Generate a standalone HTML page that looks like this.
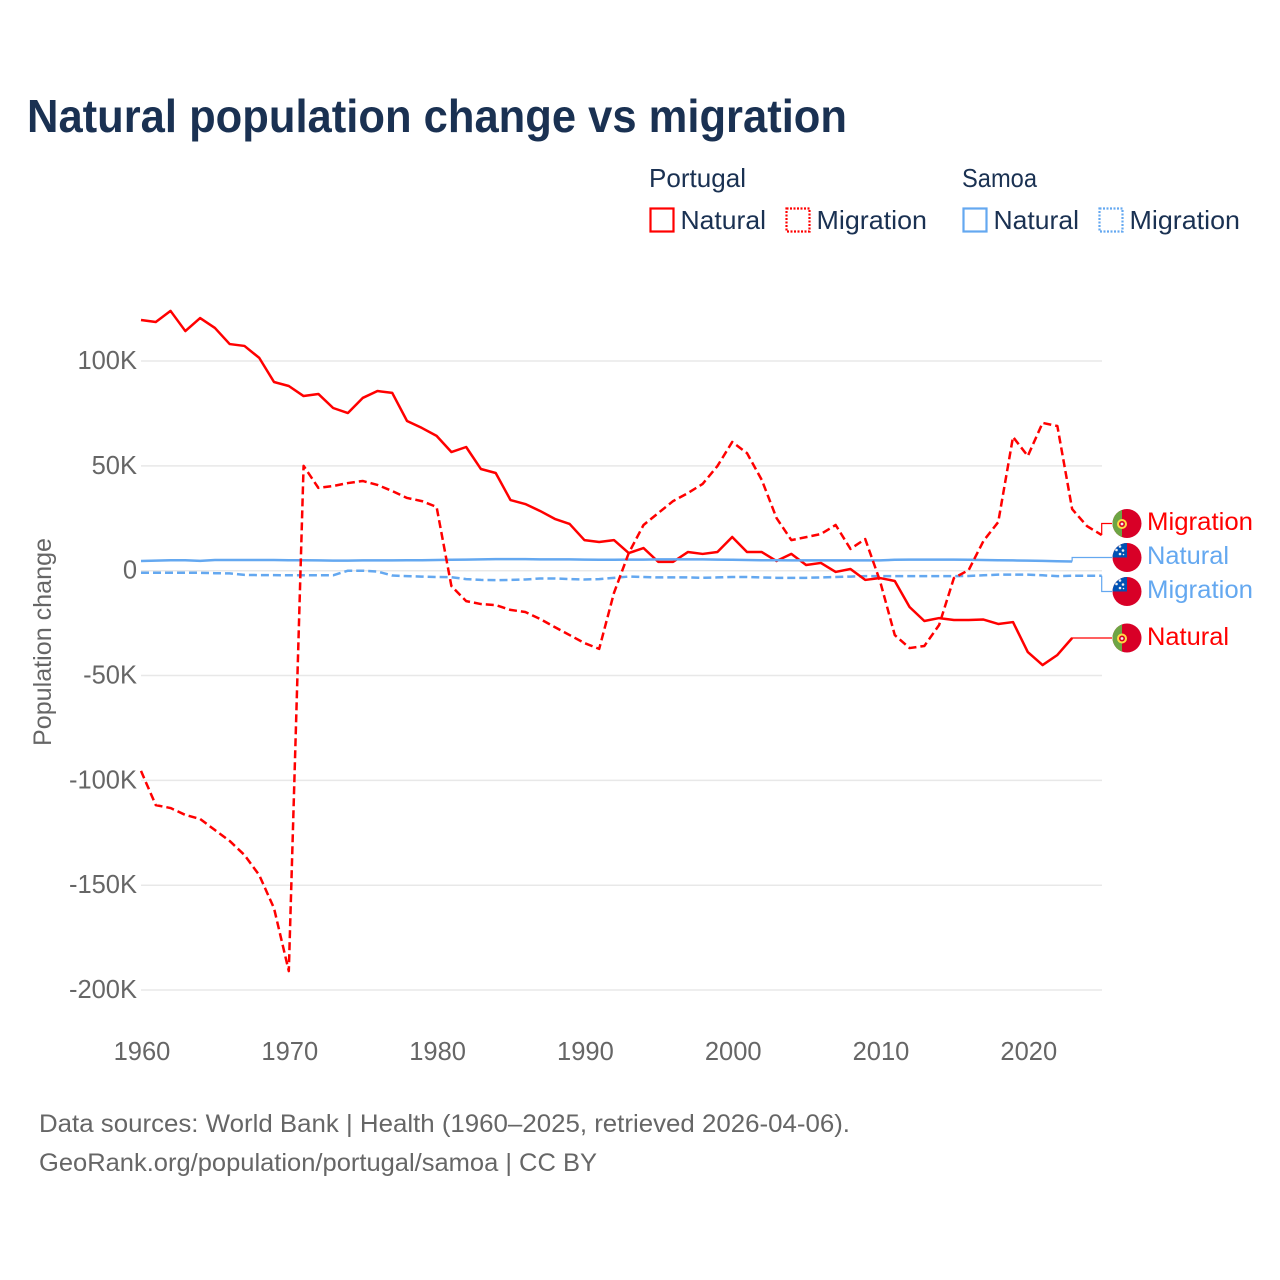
<!DOCTYPE html>
<html lang="en">
<head>
<meta charset="utf-8">
<title>Natural population change vs migration</title>
<style>
html,body{margin:0;padding:0;background:#fff;width:1280px;height:1280px;overflow:hidden}
svg{display:block;font-family:"Liberation Sans",sans-serif}
</style>
</head>
<body>
<svg id="chart" xmlns="http://www.w3.org/2000/svg" width="1280" height="1280" viewBox="0 0 1280 1280">
  <rect width="1280" height="1280" fill="#fff"/>
  <text x="27" y="132" font-size="46" font-weight="700" fill="#1a3152" textLength="820" lengthAdjust="spacingAndGlyphs">Natural population change vs migration</text>

  <g font-size="26" fill="#1a3152">
    <text x="649" y="187" textLength="97" lengthAdjust="spacingAndGlyphs">Portugal</text>
    <text x="962" y="187" textLength="75" lengthAdjust="spacingAndGlyphs">Samoa</text>
    <g>
      <rect x="650.5" y="208.5" width="23" height="23" fill="none" stroke="#ff0000" stroke-width="2.2"/>
      <text x="680.5" y="229" textLength="85.5" lengthAdjust="spacingAndGlyphs">Natural</text>
    </g>
    <g>
      <rect x="786.5" y="208.5" width="23" height="23" fill="none" stroke="#ff0000" stroke-width="2.2" stroke-dasharray="2 1.5"/>
      <text x="816.5" y="229" textLength="110.5" lengthAdjust="spacingAndGlyphs">Migration</text>
    </g>
    <g>
      <rect x="963.5" y="208.5" width="23" height="23" fill="none" stroke="#64a8f0" stroke-width="2.2"/>
      <text x="993.5" y="229" textLength="85.5" lengthAdjust="spacingAndGlyphs">Natural</text>
    </g>
    <g>
      <rect x="1099.5" y="208.5" width="23" height="23" fill="none" stroke="#64a8f0" stroke-width="2.2" stroke-dasharray="2 1.5"/>
      <text x="1129.5" y="229" textLength="110.5" lengthAdjust="spacingAndGlyphs">Migration</text>
    </g>
  </g>

  <g id="grid"></g>
  <g id="yticks" font-size="25.5" fill="#666" text-anchor="end"></g>
  <g id="xticks" font-size="25.5" fill="#666" text-anchor="middle"></g>
  <text transform="translate(51 642) rotate(-90)" text-anchor="middle" font-size="25" fill="#666" textLength="208" lengthAdjust="spacingAndGlyphs">Population change</text>
  <g id="series"></g>
  <g id="connectors"></g>

  <defs>
    <clipPath id="flag-clip"><circle cx="0" cy="0" r="14.5"/></clipPath>
    <g id="flag-pt">
      <g clip-path="url(#flag-clip)">
        <rect x="-15" y="-15" width="30" height="30" fill="#d80027"/>
        <rect x="-15" y="-15" width="10" height="30" fill="#6da544"/>
        <circle cx="-5" cy="0.5" r="5" fill="#ffda44"/>
        <circle cx="-5" cy="0.5" r="3" fill="#d80027"/>
        <circle cx="-5" cy="0.5" r="1.4" fill="#eee"/>
      </g>
    </g>
    <g id="flag-ws">
      <g clip-path="url(#flag-clip)">
        <rect x="-15" y="-15" width="30" height="30" fill="#d80027"/>
        <rect x="-15" y="-15" width="15" height="15" fill="#0052b4"/>
        <circle cx="-7" cy="-11" r="1.3" fill="#eee"/>
        <circle cx="-10.5" cy="-7.5" r="1.3" fill="#eee"/>
        <circle cx="-4" cy="-7" r="1.3" fill="#eee"/>
        <circle cx="-7" cy="-3.5" r="1.3" fill="#eee"/>
        <circle cx="-3.5" cy="-3" r="0.8" fill="#eee"/>
      </g>
    </g>
  </defs>

  <g font-size="25">
    <use href="#flag-pt" x="1127" y="523.5"/>
    <text x="1147" y="530" fill="#ff0000" textLength="106" lengthAdjust="spacingAndGlyphs">Migration</text>
    <use href="#flag-ws" x="1127" y="557.5"/>
    <text x="1147" y="564" fill="#64a8f0" textLength="82" lengthAdjust="spacingAndGlyphs">Natural</text>
    <use href="#flag-ws" x="1127" y="591.5"/>
    <text x="1147" y="598" fill="#64a8f0" textLength="106" lengthAdjust="spacingAndGlyphs">Migration</text>
    <use href="#flag-pt" x="1127" y="638"/>
    <text x="1147" y="645" fill="#ff0000" textLength="82" lengthAdjust="spacingAndGlyphs">Natural</text>
  </g>

  <g font-size="25" fill="#666">
    <text x="39" y="1132" textLength="811" lengthAdjust="spacingAndGlyphs">Data sources: World Bank | Health (1960–2025, retrieved 2026-04-06).</text>
    <text x="39" y="1171" textLength="558" lengthAdjust="spacingAndGlyphs">GeoRank.org/population/portugal/samoa | CC BY</text>
  </g>
</svg>
<script>
const years = [1960,1961,1962,1963,1964,1965,1966,1967,1968,1969,1970,1971,1972,1973,1974,1975,1976,1977,1978,1979,1980,1981,1982,1983,1984,1985,1986,1987,1988,1989,1990,1991,1992,1993,1994,1995,1996,1997,1998,1999,2000,2001,2002,2003,2004,2005,2006,2007,2008,2009,2010,2011,2012,2013,2014,2015,2016,2017,2018,2019,2020,2021,2022,2023,2024,2025];
const portugalNatural = [119.6,118.6,123.9,114.3,120.5,115.8,108.1,107.2,101.5,90,88.1,83.3,84.3,77.6,75.2,82.4,85.7,84.8,71.4,68.1,64.3,56.6,59,48.5,46.6,33.7,31.8,28.5,24.7,22.3,14.6,13.7,14.6,8.4,10.8,4.2,4.2,8.9,8,8.9,16.1,8.9,8.9,4.6,8,2.7,3.7,-0.6,0.8,-4.4,-3.5,-4.9,-17.3,-24,-22.6,-23.5,-23.5,-23.3,-25.4,-24.5,-38.8,-45,-40.2,-32.1];
const portugalMigration = [-95.5,-111.8,-113.2,-116.5,-118.4,-123.7,-128.9,-135.6,-145.2,-161,-191,50,39.5,40.4,41.8,42.8,40.9,38,34.7,33.2,30.4,-7.3,-14.5,-15.9,-16.4,-18.7,-19.7,-23,-26.9,-30.7,-34.5,-37.3,-10.6,8.4,21.8,27.5,33.2,37,41.4,49.9,61.4,56.1,43.3,25.1,14.6,16,17.5,21.8,10.4,15.1,-4.9,-30.7,-36.9,-35.9,-25.9,-3.5,0.3,14.2,23.2,63.8,54.7,70.5,69,29.4,21.3,17];
const samoaNatural = [4.6,4.8,5,5,4.7,5.1,5.1,5.1,5.1,5.1,5,5,4.9,4.8,4.8,4.9,4.9,4.9,5,5,5.1,5.2,5.3,5.4,5.5,5.5,5.5,5.4,5.4,5.4,5.3,5.2,5.2,5.3,5.3,5.4,5.4,5.4,5.4,5.3,5.2,5.1,5,5,4.9,4.9,4.9,4.9,4.9,4.9,4.9,5.2,5.3,5.3,5.3,5.3,5.2,5.1,5,4.9,4.8,4.7,4.5,4.4];
const samoaMigration = [-1,-1,-1,-1,-1,-1.2,-1.3,-2,-2.1,-2.1,-2.2,-2.2,-2.2,-2.2,0,0,-0.4,-2.3,-2.6,-2.8,-3,-3.1,-4,-4.4,-4.5,-4.4,-4.2,-3.7,-3.7,-4,-4.2,-4,-3.4,-2.8,-3,-3.2,-3.2,-3.2,-3.4,-3.2,-3,-3,-3.2,-3.4,-3.4,-3.4,-3.2,-3,-2.8,-2.6,-2.6,-2.6,-2.6,-2.6,-2.6,-2.6,-2.5,-2.2,-1.9,-1.9,-1.9,-2.2,-2.6,-2.4,-2.4,-2.4];
const yTickValues = [100,50,0,-50,-100,-150,-200];
const yTickLabels = ["100K","50K","0","-50K","-100K","-150K","-200K"];
const xTickValues = [1960,1970,1980,1990,2000,2010,2020];
const xTickLabels = ["1960","1970","1980","1990","2000","2010","2020"];

const NS = "http://www.w3.org/2000/svg";
const RED = "#ff0000";
const BLUE = "#64a8f0";
function xScale(year) { return 141 + (year - 1960) * 14.78; }
function yScale(k) { return 570.7 - k * 2.0966; }
function make(tag, attrs, parent) {
  const el = document.createElementNS(NS, tag);
  for (const k in attrs) el.setAttribute(k, attrs[k]);
  parent.appendChild(el);
  return el;
}
const gridGroup = document.getElementById("grid");
const yTickGroup = document.getElementById("yticks");
const xTickGroup = document.getElementById("xticks");
const seriesGroup = document.getElementById("series");
const connectorGroup = document.getElementById("connectors");

yTickValues.forEach(function (v, i) {
  const line = make("line", {x1: 141, x2: 1102, y1: yScale(v), y2: yScale(v), stroke: "#e8e8e8", "stroke-width": 1.5}, gridGroup);
  
  
  const label = make("text", {x: 137, y: yScale(v) + 8}, yTickGroup);
  
  
  label.textContent = yTickLabels[i];
});
xTickValues.forEach(function (v, i) {
  const label = make("text", {x: xScale(v) + 1, y: 1060}, xTickGroup);
  
  
  label.textContent = xTickLabels[i];
});

function drawSeries(values, color, dash) {
  const pts = values.map(function (v, i) { return xScale(years[i]).toFixed(2) + "," + yScale(v).toFixed(2); });
  const attrs = {points: pts.join(" "), fill: "none", stroke: color, "stroke-width": 2.5, "stroke-linejoin": "round"};
  if (dash) attrs["stroke-dasharray"] = dash;
  return make("polyline", attrs, seriesGroup);
}
function drawConnector(values, color, targetY) {
  const last = values.length - 1;
  const x = xScale(years[last]);
  const y = yScale(values[last]);
  return make("path", {d: "M" + x + " " + y + "V" + targetY + "H1112", fill: "none", stroke: color, "stroke-width": 1.2}, connectorGroup);
}

const lineSamoaMigration = drawSeries(samoaMigration, BLUE, "8 4");


const linePortugalNatural = drawSeries(portugalNatural, RED, null);


const lineSamoaNatural = drawSeries(samoaNatural, BLUE, null);


const linePortugalMigration = drawSeries(portugalMigration, RED, "8 4");



const connA = drawConnector(portugalMigration, RED, 523.5);


const connB = drawConnector(samoaNatural, BLUE, 557.5);


const connC = drawConnector(samoaMigration, BLUE, 591.5);


const connD = drawConnector(portugalNatural, RED, 638);


</script>
</body>
</html>
